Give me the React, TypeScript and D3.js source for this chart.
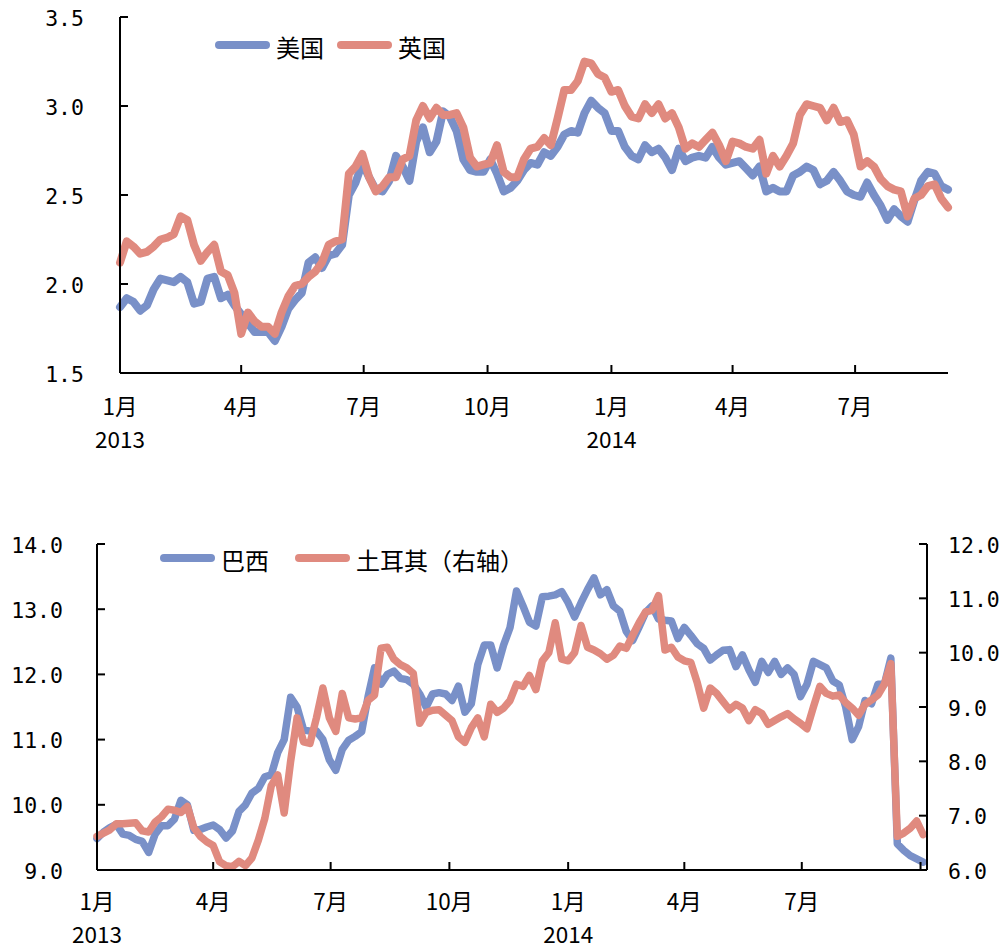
import React from 'react';
import * as d3 from 'd3';

// ---------------- data ----------------
const START = new Date(2013, 0, 1);
const STEP_DAYS = 5; // one observation every 5 calendar days

const usYield = [
  1.87, 1.92, 1.90, 1.85, 1.88, 1.97, 2.03, 2.02, 2.01, 2.04,
  2.01, 1.89, 1.90, 2.03, 2.04, 1.92, 1.94, 1.88, 1.83, 1.78,
  1.73, 1.73, 1.73, 1.68, 1.76, 1.86, 1.91, 1.95, 2.12, 2.15,
  2.09, 2.16, 2.17, 2.22, 2.50, 2.57, 2.68, 2.60, 2.53, 2.52,
  2.58, 2.72, 2.66, 2.58, 2.80, 2.88, 2.74, 2.80, 2.97, 2.94,
  2.86, 2.70, 2.64, 2.63, 2.63, 2.70, 2.62, 2.52, 2.54, 2.58,
  2.64, 2.68, 2.67, 2.74, 2.72, 2.77, 2.84, 2.86, 2.85, 2.96,
  3.03, 2.99, 2.96, 2.86, 2.86, 2.77, 2.72, 2.70, 2.78, 2.74,
  2.76, 2.71, 2.64, 2.76, 2.69, 2.71, 2.72, 2.71, 2.77, 2.71,
  2.67, 2.68, 2.69, 2.65, 2.61, 2.66, 2.52, 2.54, 2.52, 2.52,
  2.61, 2.63, 2.66, 2.64, 2.56, 2.58, 2.63, 2.58, 2.52, 2.50,
  2.49, 2.57, 2.50, 2.44, 2.36, 2.42, 2.38, 2.35, 2.47, 2.58,
  2.63, 2.62, 2.55, 2.53,
];

const ukYield = [
  2.12, 2.24, 2.21, 2.17, 2.18, 2.21, 2.25, 2.26, 2.28, 2.38,
  2.36, 2.22, 2.13, 2.18, 2.22, 2.07, 2.05, 1.95, 1.72, 1.84,
  1.79, 1.76, 1.76, 1.72, 1.84, 1.93, 1.99, 2.00, 2.04, 2.07,
  2.12, 2.22, 2.24, 2.25, 2.62, 2.66, 2.73, 2.60, 2.52, 2.55,
  2.60, 2.60, 2.70, 2.72, 2.92, 3.00, 2.93, 2.99, 2.95, 2.95,
  2.96, 2.88, 2.71, 2.66, 2.67, 2.68, 2.78, 2.63, 2.60, 2.60,
  2.70, 2.76, 2.77, 2.82, 2.78, 2.93, 3.09, 3.09, 3.14, 3.25,
  3.24, 3.18, 3.16, 3.08, 3.09, 3.00, 2.94, 2.93, 3.01, 2.96,
  3.01, 2.93, 2.96, 2.88, 2.76, 2.79, 2.77, 2.81, 2.85, 2.78,
  2.69, 2.80, 2.79, 2.77, 2.76, 2.81, 2.62, 2.72, 2.66, 2.72,
  2.79, 2.95, 3.01, 3.00, 2.99, 2.92, 2.99, 2.91, 2.92, 2.84,
  2.66, 2.69, 2.66, 2.59, 2.55, 2.53, 2.52, 2.38, 2.48, 2.50,
  2.55, 2.56, 2.48, 2.43,
];

const brazilYield = [
  9.48, 9.58, 9.65, 9.70, 9.55, 9.53, 9.47, 9.44, 9.27, 9.55,
  9.68, 9.68, 9.78, 10.07, 10.00, 9.61, 9.62, 9.66, 9.69, 9.62,
  9.49, 9.60, 9.90, 10.00, 10.18, 10.25, 10.43, 10.46, 10.80, 11.00,
  11.65, 11.50, 11.15, 11.13, 11.13, 11.00, 10.69, 10.53, 10.85, 10.99,
  11.05, 11.12, 11.66, 12.10, 11.85, 12.00, 12.05, 11.94, 11.92, 11.85,
  11.70, 11.50, 11.70, 11.72, 11.70, 11.60, 11.82, 11.42, 11.55, 12.15,
  12.45, 12.45, 12.10, 12.45, 12.72, 13.28, 13.05, 12.80, 12.74, 13.19,
  13.20, 13.22, 13.27, 13.10, 12.88, 13.10, 13.30, 13.48, 13.22, 13.30,
  13.05, 12.97, 12.66, 12.52, 12.73, 12.95, 13.05, 12.85, 12.83, 12.82,
  12.55, 12.72, 12.60, 12.47, 12.40, 12.22, 12.30, 12.37, 12.38, 12.12,
  12.30, 12.07, 11.88, 12.20, 12.03, 12.20, 12.00, 12.10, 12.00, 11.66,
  11.85, 12.20, 12.15, 12.10, 11.90, 11.84, 11.50, 11.00, 11.20, 11.60,
  11.55, 11.85, 11.85, 12.25, 9.40, 9.30, 9.22, 9.17, 9.12,
];

const turkeyYield = [
  6.62, 6.68, 6.74, 6.85, 6.85, 6.86, 6.87, 6.72, 6.70, 6.88,
  6.98, 7.12, 7.10, 7.06, 7.17, 6.78, 6.62, 6.52, 6.45, 6.15,
  6.08, 6.06, 6.16, 6.08, 6.22, 6.55, 6.95, 7.55, 7.75, 7.05,
  8.00, 8.80, 8.36, 8.33, 8.80, 9.35, 8.80, 8.55, 9.25, 8.80,
  8.78, 8.80, 9.12, 9.22, 10.08, 10.10, 9.88, 9.78, 9.72, 9.62,
  8.70, 8.90, 8.94, 8.95, 8.85, 8.75, 8.45, 8.35, 8.62, 8.80,
  8.45, 9.05, 8.90, 8.98, 9.12, 9.42, 9.38, 9.58, 9.32, 9.85,
  10.00, 10.55, 9.88, 9.85, 10.00, 10.50, 10.10, 10.05, 9.98, 9.88,
  9.95, 10.12, 10.08, 10.32, 10.55, 10.75, 10.78, 11.05, 10.05, 10.10,
  9.92, 9.85, 9.82, 9.45, 8.98, 9.35, 9.25, 9.10, 8.95, 9.05,
  8.98, 8.75, 8.95, 8.88, 8.68, 8.75, 8.82, 8.88, 8.78, 8.70,
  8.60, 9.00, 9.38, 9.25, 9.20, 9.22, 9.08, 8.98, 8.85, 9.05,
  9.13, 9.22, 9.42, 9.80, 6.62, 6.68, 6.77, 6.90, 6.65,
];

const topYTicks = [1.5, 2.0, 2.5, 3.0, 3.5];
const leftYTicks = [9, 10, 11, 12, 13, 14];
const rightYTicks = [6, 7, 8, 9, 10, 11, 12];
const topLegendLabels = ['美国', '英国'];
const bottomLegendLabels = ['巴西', '土耳其（右轴）'];
const BOTTOM_END_DAYS = 643;

// ---------------- styles ----------------
const BLUE = '#7990c8';
const RED = '#e08a7f';
const AXIS = '#000';
const NUM_FONT = '"DejaVu Sans Mono", monospace';
const CJK_FONT = '"Noto Sans CJK SC", "Noto Sans", sans-serif';

const dateAt = (i: number) => d3.timeDay.offset(START, i * STEP_DAYS);

type Box = { left: number; right: number; top: number; bottom: number };

function TimeAxis({ x, box, showLabel, monthOffset, yearOffset }: { x: d3.ScaleTime<number, number>; box: Box; showLabel: (px: number) => boolean; monthOffset: number; yearOffset: number }) {
  const [d0, d1] = x.domain();
  const ticks = d3.timeMonth.every(3)!.range(d0, d3.timeDay.offset(d1, 1));
  return (
    <g>
      <line x1={box.left} x2={box.right} y1={box.bottom} y2={box.bottom} stroke={AXIS} strokeWidth={2} />
      {ticks.map((t, i) => {
        const px = x(t);
        return (
          <g key={i}>
            <line x1={px} x2={px} y1={box.bottom} y2={box.bottom - 8} stroke={AXIS} strokeWidth={2} />
            {showLabel(px) && (
              <text x={px} y={box.bottom + monthOffset} textAnchor="middle" fontFamily={CJK_FONT} fontSize={22.5} fill="#000">
                {`${t.getMonth() + 1}月`}
              </text>
            )}
            {showLabel(px) && t.getMonth() === 0 && (
              <text x={px} y={box.bottom + yearOffset} textAnchor="middle" fontFamily={CJK_FONT} fontSize={22.5} fill="#000">
                {t.getFullYear()}
              </text>
            )}
          </g>
        );
      })}
    </g>
  );
}

function YAxis({ y, ticks, xPos, side, labelOffset }: { y: d3.ScaleLinear<number, number>; ticks: number[]; xPos: number; side: 'left' | 'right'; labelOffset: number }) {
  const [r0, r1] = y.range();
  const dir = side === 'left' ? 1 : -1;
  return (
    <g>
      <line x1={xPos} x2={xPos} y1={r0} y2={r1} stroke={AXIS} strokeWidth={2} />
      {ticks.map((t, i) => (
        <g key={i}>
          <line x1={xPos} x2={xPos + dir * 8} y1={y(t)} y2={y(t)} stroke={AXIS} strokeWidth={2} />
          <text
            x={side === 'left' ? xPos - labelOffset : xPos + labelOffset}
            y={y(t) + 8.5}
            textAnchor={side === 'left' ? 'end' : 'start'}
            fontFamily={NUM_FONT}
            fontSize={21.5}
            fill="#000"
          >
            {t.toFixed(1)}
          </text>
        </g>
      ))}
    </g>
  );
}

function LegendItem({ x, y, color, label }: { x: number; y: number; color: string; label: string }) {
  return (
    <g>
      <line x1={x + 4} x2={x + 51} y1={y} y2={y} stroke={color} strokeWidth={8} strokeLinecap="round" />
      <text x={x + 61} y={y + 1} dominantBaseline="central" fontFamily={CJK_FONT} fontSize={24} fill="#000">
        {label}
      </text>
    </g>
  );
}

function TopChart() {
  const box: Box = { left: 120, right: 948, top: 17, bottom: 373 };
  const x = d3.scaleTime().domain([START, dateAt(usYield.length - 1)]).range([box.left, box.right]);
  const y = d3.scaleLinear().domain([1.5, 3.5]).range([box.bottom, box.top]);
  const line = d3
    .line<number>()
    .x((_, i) => x(dateAt(i)))
    .y((v) => y(v));
  return (
    <g>
      <path d={line(usYield) || ''} fill="none" stroke={BLUE} strokeWidth={8} strokeLinejoin="round" strokeLinecap="round" />
      <path d={line(ukYield) || ''} fill="none" stroke={RED} strokeWidth={8} strokeLinejoin="round" strokeLinecap="round" />
      <YAxis y={y} ticks={topYTicks} xPos={box.left} side="left" labelOffset={36} />
      <TimeAxis x={x} box={box} showLabel={() => true} monthOffset={42} yearOffset={75} />
      <LegendItem x={215} y={45} color={BLUE} label={topLegendLabels[0]} />
      <LegendItem x={337} y={45} color={RED} label={topLegendLabels[1]} />
    </g>
  );
}

function BottomChart() {
  const box: Box = { left: 97, right: 927, top: 544, bottom: 870 };
  const x = d3.scaleTime().domain([START, d3.timeDay.offset(START, BOTTOM_END_DAYS)]).range([box.left, box.right]);
  const yL = d3.scaleLinear().domain([9, 14]).range([box.bottom, box.top]);
  const yR = d3.scaleLinear().domain([6, 12]).range([box.bottom, box.top]);
  const lineL = d3
    .line<number>()
    .x((_, i) => x(dateAt(i)))
    .y((v) => yL(v));
  const lineR = d3
    .line<number>()
    .x((_, i) => x(dateAt(i)))
    .y((v) => yR(v));
  return (
    <g>
      <path d={lineL(brazilYield) || ''} fill="none" stroke={BLUE} strokeWidth={7.5} strokeLinejoin="round" strokeLinecap="round" />
      <path d={lineR(turkeyYield) || ''} fill="none" stroke={RED} strokeWidth={7.5} strokeLinejoin="round" strokeLinecap="round" />
      <YAxis y={yL} ticks={leftYTicks} xPos={box.left} side="left" labelOffset={34} />
      <YAxis y={yR} ticks={rightYTicks} xPos={box.right} side="right" labelOffset={21} />
      <TimeAxis x={x} box={box} showLabel={(px) => px < box.right - 20} monthOffset={40} yearOffset={73} />
      <LegendItem x={160} y={558} color={BLUE} label={bottomLegendLabels[0]} />
      <LegendItem x={295} y={558} color={RED} label={bottomLegendLabels[1]} />
    </g>
  );
}

export default function App() {
  return (
    <svg
      width={1005}
      height={950}
      viewBox="0 0 1005 950"
      style={{ position: 'absolute', left: 0, top: 0, background: '#fff' }}
    >
      <rect x={0} y={0} width={1005} height={950} fill="#fff" />
      <TopChart />
      <BottomChart />
    </svg>
  );
}
